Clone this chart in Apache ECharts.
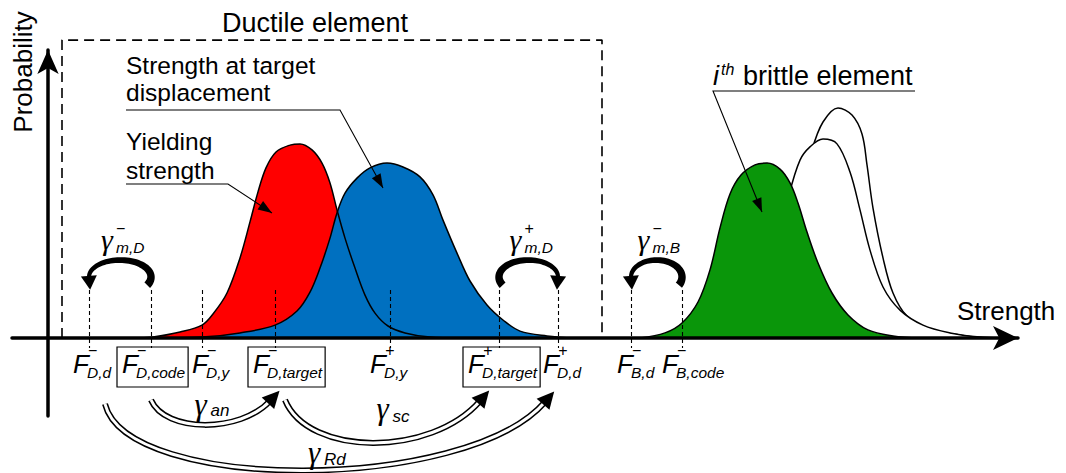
<!DOCTYPE html>
<html>
<head>
<meta charset="utf-8">
<script src="https://cdn.jsdelivr.net/npm/echarts@6/dist/echarts.min.js"></script>
<style>
  html, body { margin: 0; padding: 0; background: #ffffff; }
  #chart { width: 1066px; height: 473px; }
</style>
</head>
<body>
<div id="chart"></div>
<script>
// ---- Probability density curves: [strength, probability] ----
const yieldCurve = [
  [9.2, 0], [10.5, 0.003], [13.2, 0.02], [15.4, 0.043], [16.5, 0.08], [17.9, 0.15],
  [19.2, 0.267], [20.2, 0.387], [21.0, 0.487], [21.8, 0.567], [22.8, 0.62], [24.2, 0.643],
  [25.2, 0.647], [26.4, 0.627], [27.4, 0.583], [28.2, 0.517], [28.9, 0.427], [29.7, 0.333],
  [30.7, 0.233], [31.7, 0.143], [32.7, 0.083], [34.0, 0.04], [35.7, 0.017], [38.2, 0.003], [41.2, 0]
];
const targetCurve = [
  [10.2, 0], [15.4, 0.003], [19.2, 0.017], [22.7, 0.043], [24.9, 0.09], [26.2, 0.153],
  [27.2, 0.233], [28.2, 0.333], [28.9, 0.417], [29.7, 0.483], [30.9, 0.533], [32.2, 0.567],
  [33.9, 0.583], [35.5, 0.57], [37.2, 0.537], [38.5, 0.477], [39.5, 0.393], [40.9, 0.283],
  [42.2, 0.19], [43.9, 0.11], [45.5, 0.06], [47.2, 0.023], [49.9, 0.007], [52.7, 0]
];
const brittleCurve = [
  [59.2, 0], [61.7, 0.017], [63.4, 0.05], [65.0, 0.12], [66.2, 0.227], [67.2, 0.367],
  [68.2, 0.48], [69.3, 0.543], [70.7, 0.577], [71.9, 0.583], [73.2, 0.563], [74.2, 0.517],
  [75.0, 0.45], [75.9, 0.353], [77.0, 0.25], [78.4, 0.15], [80.0, 0.077], [82.0, 0.027],
  [84.5, 0.007], [87.2, 0]
];
const brittleCurveB = [
  [74.1, 0.477], [75.2, 0.593], [76.2, 0.637], [77.5, 0.663], [78.9, 0.647], [80.2, 0.553],
  [81.2, 0.427], [82.2, 0.293], [83.5, 0.17], [85.2, 0.093], [87.5, 0.043], [90.2, 0.017],
  [93.2, 0.003], [95.2, 0]
];
const brittleCurveC = [
  [76.4, 0.627], [77.5, 0.72], [79.0, 0.767], [80.4, 0.743], [81.4, 0.68], [81.9, 0.577],
  [82.5, 0.433], [83.5, 0.267], [84.5, 0.15], [85.9, 0.073], [88.2, 0.03], [91.2, 0.01], [93.7, 0]
];

// ---- Characteristic strengths on the strength axis ----
const markerValues = [4.1, 10.3, 15.4, 22.7, 34.2, 45.1, 51.0, 58.3, 63.4];
const markerSup = ['\u2212', '\u2212', '\u2212', '\u2212', '+', '+', '+', '\u2212', '\u2212'];
const markerSub = ['D,d', 'D,code', 'D,y', 'D,target', 'D,y', 'D,target', 'D,d', 'B,d', 'B,code'];
const markerBoxed = [false, true, false, true, false, true, false, false, false];

// Strength range covered by the ductile element frame
const ductileRange = [1.4, 55.4];
const ductileTop = 0.993;

// Model factors: [thick end marker, arrow end marker, superscript, subscript]
const modelFactors = [[1, 0, '\u2212', 'm,D'], [5, 6, '+', 'm,D'], [8, 7, '\u2212', 'm,B']];
// Chained factors: [from marker, to marker, subscript]
const chainFactors = [[1, 3, 'an'], [3, 5, 'sc'], [0, 6, 'Rd']];

// ---------------------------------------------------------------
const chart = echarts.init(document.getElementById('chart'), null, { renderer: 'svg' });
const SANS = "'Liberation Sans', Arial, sans-serif";
const SERIF = "'Liberation Serif', 'Times New Roman', serif";

const curve = (data, z, fill, withLine) => ({
  type: 'line', data, z, smooth: 0.35, symbol: 'none', silent: true, clip: false,
  lineStyle: withLine ? { color: '#000', width: 1.5 } : { width: 0, opacity: 0 },
  areaStyle: fill ? { color: fill, opacity: 1 } : undefined
});

chart.setOption({
  animation: false,
  backgroundColor: '#ffffff',
  grid: { left: 12, right: 48, top: 50, bottom: 57 },
  xAxis: {
    type: 'value', min: -3.6, max: 97, z: 10,
    axisLine: { onZero: true, symbol: ['none', 'arrow'], symbolSize: [18, 25],
      lineStyle: { color: '#000', width: 3.5 } },
    axisTick: { show: false }, axisLabel: { show: false }, splitLine: { show: false }
  },
  yAxis: {
    type: 'value', min: -0.26, max: 0.96, z: 10,
    axisLine: { onZero: true, symbol: ['none', 'arrow'], symbolSize: [16, 24],
      lineStyle: { color: '#000', width: 3.5 } },
    axisTick: { show: false }, axisLabel: { show: false }, splitLine: { show: false }
  },
  series: [
    curve(yieldCurve, 2, '#FF0000', false),
    curve(targetCurve, 3, '#0070C0', false),
    curve(yieldCurve, 5, null, true),
    curve(targetCurve, 5, null, true),
    curve(brittleCurveC, 2, '#ffffff', true),
    curve(brittleCurveB, 3, '#ffffff', true),
    curve(brittleCurve, 4, '#0A960A', true),
    {
      type: 'line', z: 6, silent: true, clip: false, symbol: 'none',
      data: [[ductileRange[0], 0], [ductileRange[0], ductileTop], [ductileRange[1], ductileTop], [ductileRange[1], 0]],
      lineStyle: { color: '#000', width: 1.6, type: [10, 6] },
      markLine: {
        silent: true, symbol: ['none', 'none'], label: { show: false },
        lineStyle: { color: '#000', width: 1.1, type: [4, 3] },
        emphasis: { disabled: true },
        data: markerValues.map(v => [{ coord: [v, 0.16] }, { coord: [v, -0.033] }])
      }
    }
  ]
});

// ---- Annotations ----
const toPx = (x, y) => chart.convertToPixel({ gridIndex: 0 }, [x, y]);
const origin = toPx(0, 0);
const y0 = origin[1];
const mx = markerValues.map(v => toPx(v, 0)[0]);
const g = [];
const measure = (() => {
  const ctx = document.createElement('canvas').getContext('2d');
  return (text, font) => { ctx.font = font; return ctx.measureText(text).width; };
})();
const text = (x, y, t, font, align, extra) => g.push(Object.assign({
  type: 'text', x, y, z: 110, silent: true,
  style: { text: t, font, fill: '#000', align: align || 'left', verticalAlign: 'middle' }
}, extra || {}));
const poly = (points, fill) => g.push({ type: 'polygon', z: 100, silent: true, shape: { points }, style: { fill, stroke: null } });
const pline = (points, stroke, w) => g.push({ type: 'polyline', z: 100, silent: true, shape: { points }, style: { stroke, lineWidth: w, fill: null } });
const head = (tip, ux, uy, len, half) => {
  const bx = tip[0] - ux * len, by = tip[1] - uy * len;
  poly([tip, [bx - uy * half, by + ux * half], [bx + uy * half, by - ux * half]], '#000');
};

// Titles
text(315, 23, 'Ductile element', '27px ' + SANS, 'center');
text(23, 72, 'Probability', '26px ' + SANS, 'center', { rotation: Math.PI / 2 });
text(957, 311, 'Strength', '26px ' + SANS, 'left');

// Pointer labels
const F_LAB = '24.5px ' + SANS;
text(126, 65, 'Strength at target', F_LAB);
text(126, 92, 'displacement', F_LAB);
text(126, 141, 'Yielding', F_LAB);
text(126, 170, 'strength', F_LAB);
text(713, 76, 'i', 'italic 27px ' + SANS);
text(721, 69, 'th', 'italic 16px ' + SANS);
text(743, 76, 'brittle element', '27px ' + SANS);

const pointer = (pts, tip) => {
  const last = pts[pts.length - 1];
  const dx = tip[0] - last[0], dy = tip[1] - last[1], l = Math.hypot(dx, dy);
  pline(pts.concat([tip]), '#000', 1.1);
  head(tip, dx / l, dy / l, 14, 5);
};
pointer([[126, 184], [228, 184]], [272, 213]);
pointer([[126, 110], [340, 110]], [383, 188]);
pointer([[915, 91], [713, 91]], [762, 212]);

// Axis labels for the characteristic strengths
const labelDx = [-16, -29, -10, -22, -20, -31, -15, -14, -20];
const SUB = 'italic 15.5px ' + SANS;
markerValues.forEach((v, i) => {
  const fx = mx[i] + labelDx[i];
  text(fx, y0 + 26, 'F', 'italic 26px ' + SANS);
  text(fx + 15, y0 + 12, markerSup[i], (markerSup[i] === '+' ? 'italic 16px ' : '16px ') + SANS);
  text(fx + 14, y0 + 34, markerSub[i], SUB);
  if (markerBoxed[i]) {
    const w = measure(markerSub[i], SUB);
    g.push({ type: 'rect', z: 100, silent: true,
      shape: { x: fx - 5, y: y0 + 9, width: 5 + 14 + w + 3, height: 40 },
      style: { fill: null, stroke: '#000', lineWidth: 1.2 } });
  }
});

// Bent arrows for the model factors (tapered horseshoe with an arrowhead)
const GAMMA_TOP = 'italic 30px ' + SERIF;
modelFactors.forEach(([a, b, sup, sub]) => {
  const xT = mx[a], xA = mx[b];
  const cx = (xT + xA) / 2, rx = Math.abs(xT - xA) / 2, cy = y0 - 61, ry = 17;
  const sgn = xT > xA ? 1 : -1;
  const s0 = -0.5, s1 = Math.PI + 0.05, N = 48;
  const outer = [], inner = [];
  let ux = 0, uy = 1, ex = 0, ey = 0;
  for (let k = 0; k <= N; k++) {
    const s = s0 + (s1 - s0) * k / N;
    const x = cx + sgn * rx * Math.cos(s), y = cy - ry * Math.sin(s);
    let tx = -sgn * rx * Math.sin(s), ty = -ry * Math.cos(s);
    const tl = Math.hypot(tx, ty); tx /= tl; ty /= tl;
    const w = (8 - 4 * k / N) / 2;
    outer.push([x - ty * w, y + tx * w]);
    inner.push([x + ty * w, y - tx * w]);
    ux = tx; uy = ty; ex = x; ey = y;
  }
  poly(outer.concat(inner.reverse()), '#000');
  head([ex + ux * 12, ey + uy * 12], ux, uy, 14, 8);
  text(cx - 19, y0 - 99, '\u03b3', GAMMA_TOP);
  text(cx - 4, y0 - 110, sup, (sup === '+' ? '16px ' : '16px ') + SANS);
  text(cx - 4, y0 - 91, sub, SUB);
});

// Hollow double-stroke arrows for the chained factors
const chainLayout = {
  an: { dx0: 0, dx1: -5, yS: 62, yE: 63, f1: 0.12, f2: 0.25, depth: 33, gx: -16, gy: 66, sy: 72 },
  sc: { dx0: 10, dx1: -19, yS: 62, yE: 63, f1: 0.12, f2: 0.25, depth: 57, gx: -6, gy: 70, sy: 78 },
  Rd: { dx0: 16, dx1: -13, yS: 66, yE: 64, f1: 0.05, f2: 0.18, depth: 89, gx: -17, gy: 114, sy: 121 }
};
const GAMMA_BOT = 'italic 31px ' + SERIF;
chainFactors.forEach(([a, b, sub]) => {
  const L = chainLayout[sub];
  const x0 = mx[a] + L.dx0, x3 = mx[b] + L.dx1;
  const ys = y0 + L.yS, ye = y0 + L.yE, len = x3 - x0;
  const c1 = [x0 + L.f1 * len, ys + L.depth], c2 = [x3 - L.f2 * len, ys + L.depth];
  const shape = { x1: x0, y1: ys, cpx1: c1[0], cpy1: c1[1], cpx2: c2[0], cpy2: c2[1], x2: x3, y2: ye };
  g.push({ type: 'bezierCurve', z: 100, silent: true, shape, style: { stroke: '#000', lineWidth: 6, fill: null } });
  g.push({ type: 'bezierCurve', z: 101, silent: true, shape, style: { stroke: '#fff', lineWidth: 3, fill: null } });
  const dx = x3 - c2[0], dy = ye - c2[1], l = Math.hypot(dx, dy), ux = dx / l, uy = dy / l;
  g.push({ type: 'polygon', z: 102, silent: true,
    shape: { points: (() => {
      const tip = [x3 + ux * 14, ye + uy * 14], bx = x3 - ux * 3, by = ye - uy * 3;
      return [tip, [bx - uy * 8.5, by + ux * 8.5], [bx + uy * 8.5, by - ux * 8.5]];
    })() }, style: { fill: '#000' } });
  const mid = (x0 + x3) / 2;
  text(mid + L.gx, y0 + L.gy, '\u03b3', GAMMA_BOT);
  text(mid + L.gx + 16, y0 + L.sy, sub, 'italic 17px ' + SANS);
});

chart.setOption({ graphic: g });
</script>
</body>
</html>
